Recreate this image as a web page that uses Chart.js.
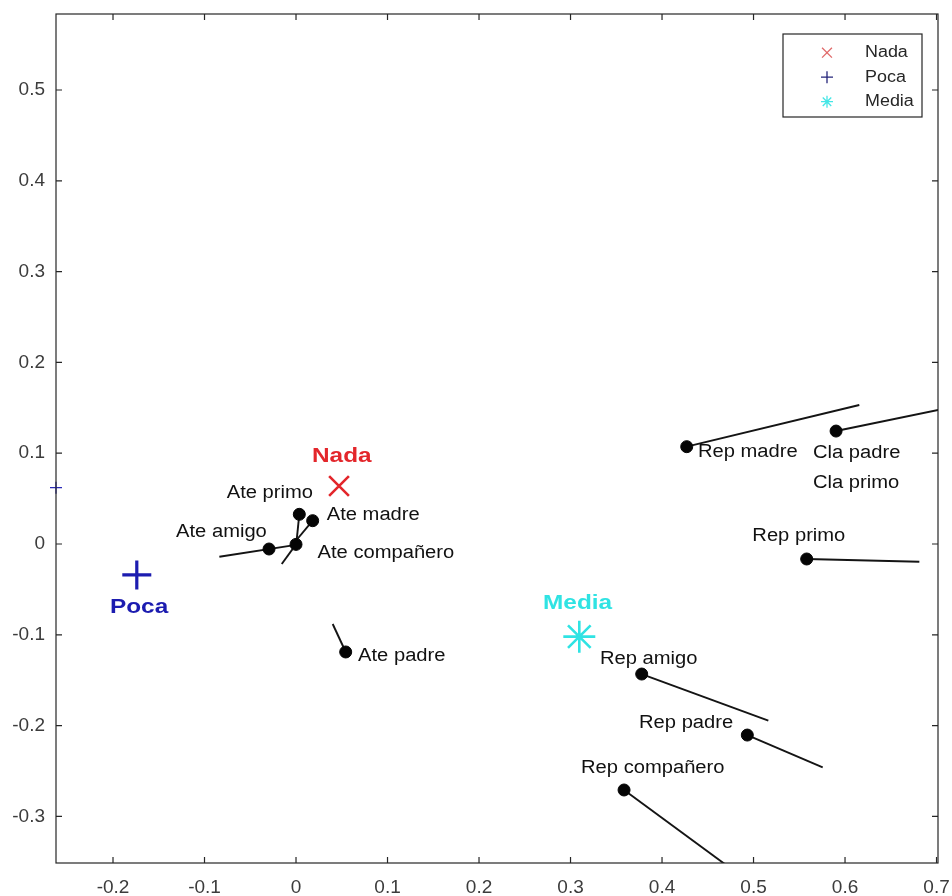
<!DOCTYPE html>
<html>
<head>
<meta charset="utf-8">
<title>Mapa de categorías</title>
<script src="https://cdn.jsdelivr.net/npm/chart.js@4/dist/chart.umd.min.js"></script>
<style>
  html, body { margin: 0; padding: 0; background: #ffffff; }
  #wrap { width: 952px; height: 896px; }
</style>
</head>
<body>
<div id="wrap"><canvas id="c" width="952" height="896"></canvas></div>
<script>
// ---- axis limits and tick labels ----
const xLimits = [-0.2623, 0.7016];
const yLimits = [-0.3513, 0.5837];
const xTicks = [-0.2, -0.1, 0, 0.1, 0.2, 0.3, 0.4, 0.5, 0.6, 0.7];
const yTicks = [-0.3, -0.2, -0.1, 0, 0.1, 0.2, 0.3, 0.4, 0.5];

// ---- group centroids (Nada / Poca / Media) ----
const groupNames = ['Nada', 'Poca', 'Media'];
const groupX = [0.047, -0.174, 0.3096];
const groupY = [0.0639, -0.034, -0.102];
const groupLabelX = [0.0175, -0.2033, 0.270];
const groupLabelY = [0.0969, -0.0694, -0.065];

// second Poca marker sitting on the left border
const pocaEdgeY = [0.062];

// ---- category points ----
const itemNames = ['Ate primo', 'Ate madre', 'Ate compañero', 'Ate amigo', 'Ate padre',
                   'Rep madre', 'Cla padre', 'Rep primo', 'Rep amigo', 'Rep padre', 'Rep compañero'];
const itemX = [0.0036, 0.0182, 0.0000, -0.0295, 0.0543, 0.4270, 0.5902, 0.5581, 0.3778, 0.4932, 0.3585];
const itemY = [0.0327, 0.0257, -0.0004, -0.0055, -0.1189, 0.1072, 0.1244, -0.0165, -0.1432, -0.2104, -0.2709];

// ---- segments attached to the points (start -> end) ----
const segFromX = [0.0036, 0.0182, 0.0000, 0.0000, 0.0543, 0.4270, 0.5902, 0.5581, 0.3778, 0.4932, 0.3585];
const segFromY = [0.0327, 0.0257, -0.0004, -0.0010, -0.1189, 0.1072, 0.1244, -0.0165, -0.1432, -0.2104, -0.2709];
const segToX   = [0.0005, -0.0010, -0.0156, -0.0838, 0.0401, 0.6156, 0.7500, 0.6812, 0.5162, 0.5756, 0.4900];
const segToY   = [0.0020, 0.0025, -0.0220, -0.0140, -0.0881, 0.1531, 0.1576, -0.0195, -0.1946, -0.2459, -0.3683];

// ---- text labels (left edge, vertical middle) ----
const labelText = ['Ate primo', 'Ate madre', 'Ate amigo', 'Ate compañero', 'Ate padre',
                   'Rep madre', 'Cla padre', 'Cla primo', 'Rep primo', 'Rep amigo', 'Rep padre', 'Rep compañero'];
const labelX = [-0.0757, 0.0336, -0.1311, 0.0235, 0.0678, 0.4393, 0.5650, 0.5650, 0.4987, 0.3322, 0.3749, 0.3115];
const labelY = [0.0562, 0.0319, 0.0135, -0.0099, -0.1233, 0.1017, 0.1006, 0.0675, 0.0088, -0.1267, -0.1971, -0.2467];

// ---- styling ----
const FONT = "'Liberation Sans', Arial, Helvetica, sans-serif";
const groupColors = ['#e3262b', '#1c1cb0', '#2fe3e3'];
const groupStyles = ['crossRot', 'cross', 'star'];
const groupRadius = [14, 14.5, 16];
const groupWidth = [2.6, 3.2, 2.6];
const legendColors = ['#e06a6a', '#25257a', '#45e6e6'];
const axisColor = '#262626';
const tickTextColor = '#3c3c3c';

Chart.defaults.font.family = FONT;

function fmtTick(v) {
  const s = String(Number(v.toFixed(2)));
  return s === '-0' ? '0' : s;
}

// draw text with a slight horizontal stretch
function drawLabel(ctx, text, px, py, font, color, sx) {
  ctx.save();
  ctx.translate(px, py);
  ctx.scale(sx, 1);
  ctx.font = font;
  ctx.fillStyle = color;
  ctx.textAlign = 'left';
  ctx.textBaseline = 'middle';
  ctx.fillText(text, 0, 0);
  ctx.restore();
}

// axes keep a fixed box: no extra room reserved for overhanging end labels
function noEdgePadding(s) {
  s.paddingLeft = 0; s.paddingRight = 0; s.paddingTop = 0; s.paddingBottom = 0;
}

const datasets = [];

// group markers on top
groupNames.forEach((name, i) => {
  datasets.push({
    label: name,
    data: [{ x: groupX[i], y: groupY[i] }],
    pointStyle: groupStyles[i],
    pointRadius: groupRadius[i],
    pointBorderColor: groupColors[i],
    pointBackgroundColor: groupColors[i],
    pointBorderWidth: groupWidth[i],
    showLine: false,
    order: 1
  });
});

datasets.push({
  label: 'Poca (borde)',
  data: pocaEdgeY.map(y => ({ x: xLimits[0], y })),
  pointStyle: 'cross',
  pointRadius: 6,
  pointBorderColor: '#2a2ab8',
  pointBorderWidth: 1.2,
  showLine: false,
  clip: false,
  order: 1
});

// black category dots
datasets.push({
  label: 'categorias',
  data: itemX.map((x, i) => ({ x, y: itemY[i] })),
  pointStyle: 'circle',
  pointRadius: 6,
  pointBackgroundColor: '#050505',
  pointBorderColor: '#050505',
  pointBorderWidth: 1,
  showLine: false,
  order: 2
});

// segments
segFromX.forEach((x0, i) => {
  datasets.push({
    label: 'seg' + i,
    data: [{ x: x0, y: segFromY[i] }, { x: segToX[i], y: segToY[i] }],
    showLine: true,
    borderColor: '#141414',
    borderWidth: 1.9,
    pointRadius: 0,
    order: 3
  });
});

const framePlugin = {
  id: 'frame',
  afterDraw(chart) {
    const { ctx, chartArea: a, scales } = chart;
    ctx.save();
    ctx.strokeStyle = axisColor;
    ctx.lineWidth = 1.2;
    ctx.strokeRect(a.left, a.top, a.right - a.left, a.bottom - a.top);
    const tl = 6;
    ctx.beginPath();
    xTicks.forEach(v => {
      const px = scales.x.getPixelForValue(v);
      ctx.moveTo(px, a.bottom); ctx.lineTo(px, a.bottom - tl);
      ctx.moveTo(px, a.top); ctx.lineTo(px, a.top + tl);
    });
    yTicks.forEach(v => {
      const py = scales.y.getPixelForValue(v);
      ctx.moveTo(a.left, py); ctx.lineTo(a.left + tl, py);
      ctx.moveTo(a.right, py); ctx.lineTo(a.right - tl, py);
    });
    ctx.stroke();
    ctx.restore();
  }
};

const labelPlugin = {
  id: 'labels',
  afterDatasetsDraw(chart) {
    const { ctx, scales } = chart;
    labelText.forEach((t, i) => {
      drawLabel(ctx, t, scales.x.getPixelForValue(labelX[i]), scales.y.getPixelForValue(labelY[i]),
        '18px ' + FONT, '#111111', 1.12);
    });
    groupNames.forEach((t, i) => {
      drawLabel(ctx, t, scales.x.getPixelForValue(groupLabelX[i]), scales.y.getPixelForValue(groupLabelY[i]),
        'bold 21px ' + FONT, groupColors[i], 1.16);
    });
  }
};

const legendPlugin = {
  id: 'boxLegend',
  afterDraw(chart) {
    const { ctx, chartArea: a } = chart;
    const w = 139, h = 83;
    const x0 = a.right - 16 - w, y0 = a.top + 20;
    ctx.save();
    ctx.fillStyle = '#ffffff';
    ctx.fillRect(x0, y0, w, h);
    ctx.strokeStyle = axisColor;
    ctx.lineWidth = 1.2;
    ctx.strokeRect(x0, y0, w, h);
    groupNames.forEach((name, i) => {
      const cy = y0 + 18.7 + i * 24.5;
      ctx.strokeStyle = legendColors[i];
      ctx.fillStyle = legendColors[i];
      ctx.lineWidth = 1.3;
      Chart.helpers.drawPoint(ctx, {
        pointStyle: groupStyles[i],
        radius: groupStyles[i] === 'crossRot' ? 7 : 6,
        borderWidth: 1.3,
        rotation: 0
      }, x0 + 44, cy);
      drawLabel(ctx, name, x0 + 82, cy, '16px ' + FONT, '#262626', 1.12);
    });
    ctx.restore();
  }
};

new Chart(document.getElementById('c'), {
  type: 'scatter',
  data: { datasets },
  options: {
    responsive: false,
    animation: false,
    events: [],
    layout: { autoPadding: false, padding: { top: 14, right: 14, left: 0, bottom: 0 } },
    plugins: { legend: { display: false }, tooltip: { enabled: false } },
    scales: {
      x: {
        type: 'linear',
        min: xLimits[0],
        max: xLimits[1],
        grid: { display: false, drawTicks: false },
        border: { display: false },
        afterBuildTicks: s => { s.ticks = xTicks.map(v => ({ value: v })); },
        afterFit: s => { s.height = 33; noEdgePadding(s); },
        ticks: {
          autoSkip: false, maxRotation: 0, padding: 13,
          font: { size: 19 }, color: tickTextColor,
          callback: v => fmtTick(v)
        }
      },
      y: {
        type: 'linear',
        min: yLimits[0],
        max: yLimits[1],
        grid: { display: false, drawTicks: false },
        border: { display: false },
        afterBuildTicks: s => { s.ticks = yTicks.map(v => ({ value: v })); },
        afterFit: s => { s.width = 56; noEdgePadding(s); },
        ticks: {
          autoSkip: false, padding: 11,
          font: { size: 19 }, color: tickTextColor,
          callback: v => fmtTick(v)
        }
      }
    }
  },
  plugins: [framePlugin, labelPlugin, legendPlugin]
});
</script>
</body>
</html>
